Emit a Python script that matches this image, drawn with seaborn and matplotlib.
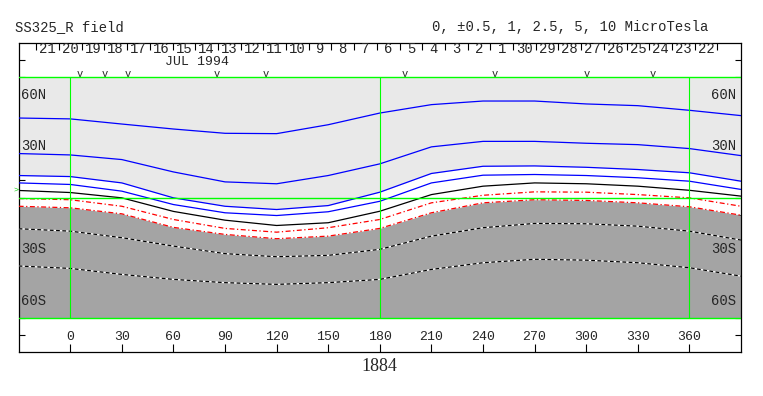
import numpy as np
import pandas as pd
import seaborn as sns
import matplotlib
matplotlib.use("Agg")
import matplotlib.pyplot as plt

# carrington longitude samples (deg) and contour latitudes
lons = [-30, 0, 30, 60, 90, 120, 150, 180, 210, 240, 270, 300, 330, 360, 390]

pos5 = [46.3, 45.8, 42.8, 39.9, 37.4, 37.2, 42.4, 49.2, 54.1, 56.2, 56.2, 54.5, 53.5, 50.8, 47.7]
pos25 = [25.6, 24.8, 22.1, 14.9, 9.1, 8.0, 12.8, 19.6, 29.5, 32.7, 32.7, 31.6, 30.8, 28.5, 24.4]
pos1 = [12.8, 12.2, 8.5, -0.2, -5.1, -7.0, -4.7, 3.1, 14.0, 18.2, 18.4, 17.6, 16.3, 14.4, 9.5]
pos05 = [8.5, 7.6, 3.7, -4.1, -8.9, -10.5, -8.3, -2.2, 8.5, 13.0, 13.4, 12.8, 11.5, 9.5, 4.7]
neutral = [4.1, 2.9, -0.2, -8.1, -13.2, -16.3, -14.7, -8.0, 1.7, 6.6, 8.5, 8.0, 6.6, 4.2, 0.8]
neg05 = [-0.6, -1.3, -5.1, -12.8, -18.0, -20.2, -17.6, -12.8, -3.1, 1.3, 3.3, 3.1, 1.7, -0.2, -5.1]
neg1 = [-5.1, -6.0, -9.5, -17.4, -21.5, -24.0, -22.5, -18.0, -8.9, -3.1, -1.3, -1.7, -3.1, -5.4, -10.3]
neg25 = [-18.2, -19.6, -23.4, -28.3, -32.7, -34.5, -33.7, -30.2, -22.5, -17.6, -15.1, -15.3, -16.7, -19.6, -24.8]
neg5 = [-39.9, -41.3, -44.8, -47.7, -49.6, -50.6, -49.6, -47.7, -41.9, -38.0, -36.0, -36.5, -38.0, -40.9, -45.8]

# top date strip (JUL 1994 / JUN 1994), first day-boundary longitude
day_labels = [str(d) for d in range(21, 0, -1)] + [str(d) for d in range(30, 21, -1)]
first_day_lon = -19.7
day_deg = 360 / 27.2753
obs_lons = [5.8, 19.9, 33.7, 85.2, 113.6, 194.5, 246.9, 300.1, 338.8]
earth_lat = 4.4

lon_ticks = list(range(0, 361, 30))
lat_labels = {60: "60N", 30: "30N", -30: "30S", -60: "60S"}

sns.set_style("white")
plt.rcParams["font.family"] = ["Liberation Mono", "DejaVu Sans Mono"]

fig = plt.figure(figsize=(7.63, 3.96), dpi=100)
ax = fig.add_axes([0.0244, 0.1111, 0.9468, 0.7803])
ax.set_xlim(-30, 390)
ax.set_ylim(-90, 90)

# shading: above +1 light, below -1 dark
ax.fill_between(lons, pos1, 70, color="#e9e9e9", lw=0, zorder=1)
ax.fill_between(lons, neg1, -70, color="#a4a4a4", lw=0, zorder=1)

for vals in [pos5, pos25, pos1, pos05]:
    sns.lineplot(x=lons, y=vals, color="#0000ff", lw=0.9, ax=ax, zorder=3)
sns.lineplot(x=lons, y=neutral, color="black", lw=0.9, ax=ax, zorder=3)
for vals in [neg05, neg1]:
    sns.lineplot(x=lons, y=vals, color="#ff0000", lw=0.9, linestyle=(0, (4, 2, 1, 2)), ax=ax, zorder=3)
for vals in [neg25, neg5]:
    sns.lineplot(x=lons, y=vals, color="white", lw=0.9, ax=ax, zorder=3)
    sns.lineplot(x=lons, y=vals, color="black", lw=0.9, linestyle=(0, (3, 2)), ax=ax, zorder=3)

# green grid
for yy in [70, 0, -70]:
    ax.axhline(yy, color="#00ff00", lw=1.0, zorder=4)
for xx in [0, 180, 360]:
    ax.vlines(xx, -70, 70, color="#00ff00", lw=0.8, zorder=4)

# frame ticks
ax.set_yticks(range(-80, 90, 10))
ax.set_xticks(lon_ticks)
ax.tick_params(axis="y", direction="in", length=4.5, width=0.8, left=True, right=True,
               labelleft=False, labelright=False, color="black")
ax.tick_params(axis="x", direction="in", length=6, width=0.8, bottom=True, top=False,
               labelbottom=False, color="black")
for s in ax.spines.values():
    s.set_color("black")
    s.set_linewidth(0.9)

for lo in lon_ticks:
    ax.text(lo, -81.2, str(lo), ha="center", va="center", fontsize=9.5)

for la, lab in lat_labels.items():
    ax.text(-28.5, la, lab, ha="left", va="center", fontsize=10, zorder=5)
    ax.text(387, la, lab, ha="right", va="center", fontsize=10, zorder=5)

# date strip
edges = [first_day_lon + k * day_deg for k in range(len(day_labels) + 1)]
ax.vlines(edges, 86, 90, color="black", lw=0.8)
for k, lab in enumerate(day_labels):
    ax.text(first_day_lon + (k + 0.5) * day_deg, 86.4, lab, ha="center", va="center", fontsize=10)
ax.text(73.5, 79.0, "JUL 1994", ha="center", va="center", fontsize=9.5)
for lo in obs_lons:
    ax.text(lo, 71.9, "v", ha="center", va="center", fontsize=7.5)

ax.text(-31.3, earth_lat, ">", ha="center", va="center", fontsize=6, color="#00cc00", clip_on=False)

ax.text(180, -98.5, "1884", ha="center", va="center", fontsize=13,
        family="Liberation Serif", clip_on=False)

fig.text(0.0197, 0.932, "SS325_R field", ha="left", va="center", fontsize=10)
fig.text(0.566, 0.932, "0, ±0.5, 1, 2.5, 5, 10 MicroTesla", ha="left", va="center", fontsize=10)

ax.set_xlabel("")
ax.set_ylabel("")
fig.savefig("out.png", dpi=100)
